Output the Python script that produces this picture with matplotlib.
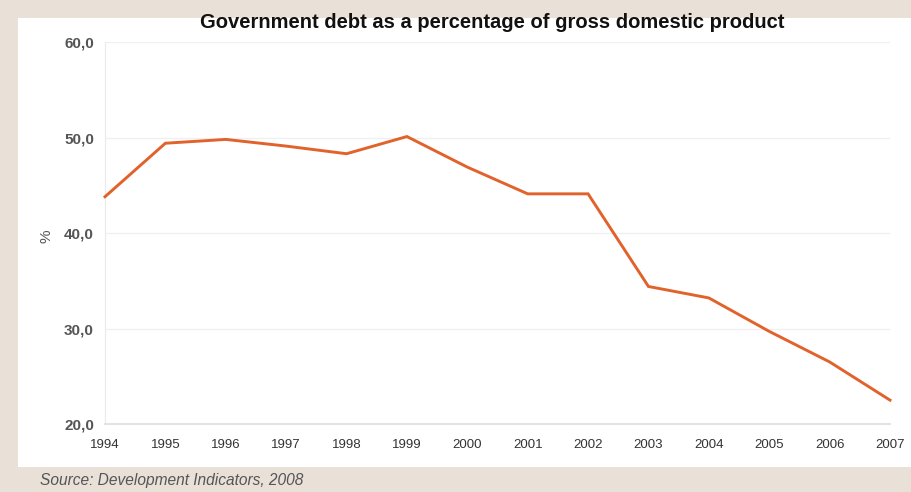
import matplotlib
matplotlib.use("Agg")
import matplotlib.pyplot as plt

years = [1994, 1995, 1996, 1997, 1998, 1999, 2000, 2001, 2002, 2003, 2004, 2005, 2006, 2007]
debt = [43.8, 49.4, 49.8, 49.1, 48.3, 50.1, 46.9, 44.1, 44.1, 34.4, 33.2, 29.7, 26.5, 22.5]
yticks = [20, 30, 40, 50, 60]
ytick_labels = ["20,0", "30,0", "40,0", "50,0", "60,0"]
title = "Government debt as a percentage of gross domestic product"
source = "Source: Development Indicators, 2008"

plt.rcParams['font.family'] = ['Liberation Sans', 'DejaVu Sans']

W, H = 912, 492
fig = plt.figure(figsize=(W / 100, H / 100), dpi=100)
fig.patch.set_facecolor('#e9e1d8')

# white panel behind the chart
bg = fig.add_axes([18 / W, 1 - 467 / H, (W - 18) / W, (467 - 18) / H])
bg.set_facecolor('white')
bg.set_xticks([])
bg.set_yticks([])
for s in bg.spines.values():
    s.set_visible(False)
bg.set_zorder(0)

ax = fig.add_axes([105 / W, 1 - 424 / H, 785 / W, 382 / H])
ax.set_zorder(1)
ax.set_facecolor('none')
ax.plot(years, debt, color='#e1622b', linewidth=2.1, solid_joinstyle='miter', clip_on=False, zorder=3)

ax.set_xlim(1994, 2007)
ax.set_ylim(20, 60)
ax.set_xticks(years)
ax.set_xticklabels([str(y) for y in years], fontsize=9.5, color='#333333')
ax.set_yticks(yticks)
ax.set_yticklabels(ytick_labels, fontsize=11, fontweight='bold', color='#555555')
ax.tick_params(axis='both', length=0)
ax.tick_params(axis='x', pad=11)
ax.tick_params(axis='y', pad=8)

ax.grid(axis='y', color='#f0f0f0', linewidth=1.0)
ax.set_axisbelow(True)
for s in ['top', 'right']:
    ax.spines[s].set_visible(False)
ax.spines['left'].set_color('#ebebeb')
ax.spines['bottom'].set_color('#e3e3e3')
ax.spines['bottom'].set_linewidth(1.5)

fig.text(47 / W, 1 - 236 / H, '%', rotation=90, fontsize=11, color='#555555', ha='center', va='center')
fig.text(492 / W, 1 - 22 / H, title, fontsize=14.5, fontweight='bold', color='#111111', ha='center', va='center')
fig.text(40 / W, 1 - 480 / H, source, fontsize=11.2, style='italic', color='#555555', ha='left', va='center')

fig.savefig('out.png', dpi=100, facecolor=fig.get_facecolor())
